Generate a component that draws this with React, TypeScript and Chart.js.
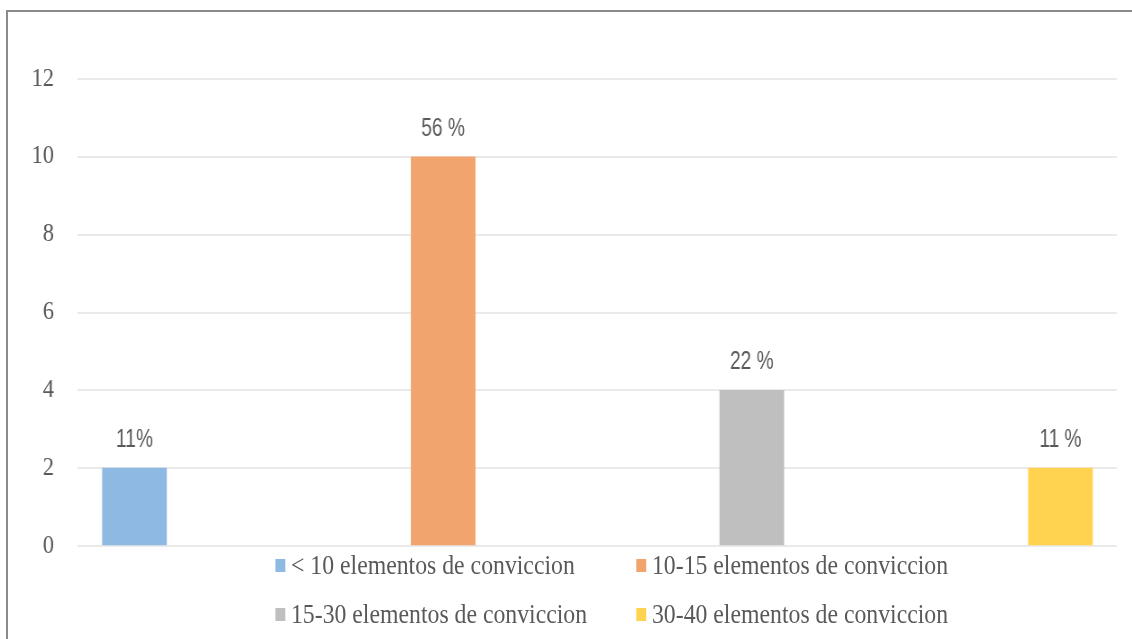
import React, { useEffect, useRef } from "react";
import { Chart, registerables } from "chart.js";

Chart.register(...registerables);

// ---- data ----
const seriesNames = [
  "< 10 elementos de conviccion",
  "10-15 elementos de conviccion",
  "15-30 elementos de conviccion",
  "30-40 elementos de conviccion",
];
const seriesValues = [2, 10, 4, 2];
const seriesLabels = ["11%", "56 %", "22 %", "11 %"];
const seriesColors = ["#8DB9E2", "#F1A46E", "#BFBFBF", "#FFD34F"];
const yTickValues = [0, 2, 4, 6, 8, 10, 12];

// ---- layout (screen px) ----
const S = 0.9; // horizontal squeeze of the original picture
const PAGE_W = 1132;
const PAGE_H = 639;
const WIDE_W = PAGE_W / S;
const AREA_L = 77;
const AREA_R = 1116;
const AREA_T = 79;
const AREA_B = 546;
const TEXT = "#595959";

const valueLabelPlugin = {
  id: "valueLabels",
  afterDatasetsDraw(chart: any) {
    const ctx = chart.ctx;
    chart.data.datasets.forEach((_ds: any, i: number) => {
      const el = chart.getDatasetMeta(i).data[0];
      if (!el) return;
      ctx.save();
      ctx.translate(el.x, el.y - 28);
      ctx.scale(0.85, 1);
      ctx.font = '25px "Liberation Sans"';
      ctx.fillStyle = TEXT;
      ctx.textAlign = "center";
      ctx.textBaseline = "middle";
      ctx.fillText(seriesLabels[i], 0, 0);
      ctx.restore();
    });
  },
};

function BarChart() {
  const ref = useRef<HTMLCanvasElement | null>(null);
  useEffect(() => {
    if (!ref.current) return;
    const chart = new Chart(ref.current, {
      type: "bar",
      data: {
        datasets: seriesNames.map((name, i) => ({
          label: name,
          data: [{ x: i, y: seriesValues[i] }],
          backgroundColor: seriesColors[i],
          barThickness: 64 / S,
          grouped: false,
        })),
      },
      options: {
        responsive: true,
        maintainAspectRatio: false,
        animation: false,
        layout: {
          padding: {
            left: 0,
            right: WIDE_W - AREA_R / S,
            top: AREA_T,
            bottom: PAGE_H - AREA_B,
          },
        },
        plugins: {
          legend: { display: false },
          tooltip: { enabled: false },
        },
        scales: {
          x: { type: "linear", display: false, offset: false, min: -0.186, max: 3.183 },
          y: {
            min: yTickValues[0],
            max: yTickValues[yTickValues.length - 1],
            afterBuildTicks: (scale: any) => {
              scale.ticks = yTickValues.map((v) => ({ value: v }));
            },
            ticks: {
              padding: 23 / S,
              color: TEXT,
              font: { family: "Liberation Serif", size: 25 },
            },
            grid: { color: "#EAEAEA", lineWidth: 2, drawTicks: false },
            border: { display: false },
            afterFit: (scale: any) => {
              scale.width = AREA_L / S;
            },
          },
        },
      } as any,
      plugins: [valueLabelPlugin],
    });
    return () => chart.destroy();
  }, []);

  return (
    <div style={{ position: "absolute", left: 0, top: 0, width: WIDE_W, height: PAGE_H }}>
      <canvas ref={ref} />
    </div>
  );
}

function Legend() {
  const rows = [565, 614];
  const cols = [275, 636];
  return (
    <>
      {seriesNames.map((name, i) => {
        const row = Math.floor(i / 2);
        const col = i % 2;
        return (
          <div
            key={name}
            style={{
              position: "absolute",
              left: cols[col] / S,
              top: rows[row] - 17,
              height: 34,
              display: "flex",
              alignItems: "center",
              whiteSpace: "nowrap",
              fontFamily: "Liberation Serif",
              fontSize: 26.4,
              color: TEXT,
            }}
          >
            <span
              style={{
                display: "inline-block",
                width: 10 / S,
                height: 13,
                background: seriesColors[i],
                marginRight: 6 / S,
              }}
            />
            <span>{name}</span>
          </div>
        );
      })}
    </>
  );
}

export default function App() {
  return (
    <div style={{ position: "fixed", left: 0, top: 0, width: PAGE_W, height: PAGE_H, overflow: "hidden", background: "#fff" }}>
      <div
        style={{
          position: "absolute",
          left: 6,
          top: 10,
          width: PAGE_W + 20,
          height: PAGE_H + 20,
          borderLeft: "2px solid #8a8a8a",
          borderTop: "2px solid #8a8a8a",
        }}
      />
      <div
        style={{
          position: "absolute",
          left: 0,
          top: 0,
          width: WIDE_W,
          height: PAGE_H,
          transform: `scaleX(${S})`,
          transformOrigin: "0 0",
        }}
      >
        <BarChart />
        <Legend />
      </div>
    </div>
  );
}
